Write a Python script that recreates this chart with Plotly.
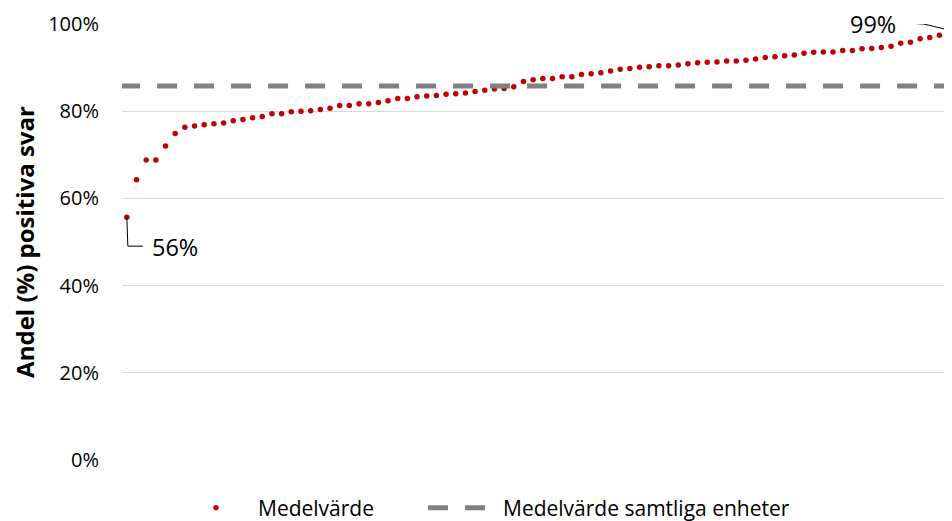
import plotly.graph_objects as go

units = list(range(1, 87))
values = [55.7, 64.3, 68.8, 68.8, 72.0, 74.9, 76.3, 76.6, 76.9, 77.1,
          77.3, 77.8, 78.1, 78.5, 78.8, 79.4, 79.4, 79.9, 80.0, 80.1,
          80.4, 80.7, 81.3, 81.3, 81.7, 81.7, 82.0, 82.4, 82.9, 82.9,
          83.3, 83.5, 83.6, 83.9, 84.0, 84.2, 84.5, 84.8, 85.1, 85.2,
          85.6, 86.8, 87.2, 87.5, 87.5, 87.9, 87.9, 88.4, 88.6, 88.8,
          89.2, 89.6, 89.8, 90.1, 90.2, 90.4, 90.4, 90.6, 90.9, 91.1,
          91.2, 91.3, 91.5, 91.5, 91.7, 92.0, 92.3, 92.5, 92.7, 92.9,
          93.3, 93.5, 93.6, 93.6, 93.9, 93.9, 94.3, 94.4, 94.6, 94.9,
          95.6, 95.8, 96.6, 96.9, 97.4, 98.6]
values = [v / 100 for v in values]
mean_all = 0.858
y_ticks = [0, 0.2, 0.4, 0.6, 0.8, 1.0]
y_ticktext = ["0%", "20%", "40%", "60%", "80%", "100%"]
series_names = ["Medelvärde", "Medelvärde samtliga enheter"]

FONT = "Open Sans"
RED = "#C00000"
GREY = "#808080"

# page body has an 8px default margin: figure is sized to fill the rest
W, H = 944, 513

fig = go.Figure()
fig.add_trace(go.Scatter(
    x=units, y=values, mode="markers", name=series_names[0],
    marker=dict(color=RED, size=5.5), cliponaxis=False, legend="legend",
))
x_lo = units[0] - 0.5
x_hi = units[-1] + 0.5
fig.add_trace(go.Scatter(
    x=[x_lo - 0.2, x_hi], y=[mean_all, mean_all], mode="lines", name=series_names[1],
    line=dict(color=GREY, width=5, dash="20px,17px"), legend="legend2",
    cliponaxis=False,
))

i_min = 0
i_max = len(values) - 1
ann_font = dict(family=FONT, size=23.5, color="#000000")
fig.add_annotation(x=units[i_min], y=values[i_min], xref="x", yref="y",
                   text=f"{round(values[i_min]*100)}%", showarrow=False,
                   xanchor="left", yanchor="middle", xshift=23, yshift=-30,
                   font=ann_font)
fig.add_annotation(x=units[i_max], y=values[i_max], xref="x", yref="y",
                   text=f"{round(values[i_max]*100)}%", showarrow=False,
                   xanchor="right", yanchor="middle", xshift=-51, yshift=6,
                   font=ann_font)
fig.add_shape(type="path", xref="x", yref="y", xsizemode="pixel", ysizemode="pixel",
              xanchor=units[i_min], yanchor=values[i_min],
              path="M 0,0 L 1,-29 L 16,-29", line=dict(color="#000000", width=1))
fig.add_shape(type="path", xref="x", yref="y", xsizemode="pixel", ysizemode="pixel",
              xanchor=units[i_max], yanchor=values[i_max],
              path="M 0,0 L -25,6 L -41,7", line=dict(color="#000000", width=1))

leg_font = dict(family=FONT, size=21, color="#000000")
leg_y = 1 - 500 / H
fig.update_layout(
    width=W, height=H,
    margin=dict(l=114, r=0, t=16, b=61, autoexpand=False),
    paper_bgcolor="white", plot_bgcolor="white",
    font=dict(family=FONT, size=20, color="#000000"),
    showlegend=True,
    legend=dict(orientation="h", xref="container", yref="container",
                x=166 / W, xanchor="left", y=leg_y, yanchor="middle",
                font=leg_font, itemwidth=74, bgcolor="rgba(0,0,0,0)"),
    legend2=dict(orientation="h", xref="container", yref="container",
                 x=415 / W, xanchor="left", y=leg_y, yanchor="middle",
                 font=leg_font, itemwidth=70, bgcolor="rgba(0,0,0,0)"),
)
fig.update_xaxes(range=[x_lo, x_hi - 0.2], showgrid=False, showticklabels=False,
                 zeroline=False, showline=False, ticks="", automargin=False)
fig.update_yaxes(range=[0, 1.0], tickvals=y_ticks, ticktext=y_ticktext,
                 showgrid=True, gridcolor="#D9D9D9", gridwidth=1, zeroline=False,
                 showline=False, ticks="", ticklabelstandoff=22, automargin=False,
                 tickfont=dict(family=FONT, size=20, color="#000000"),
                 title=dict(text="<b>Andel (%) positiva svar</b>", standoff=10,
                            font=dict(family=FONT, size=24, color="#000000")))

fig.write_html("out.html")
